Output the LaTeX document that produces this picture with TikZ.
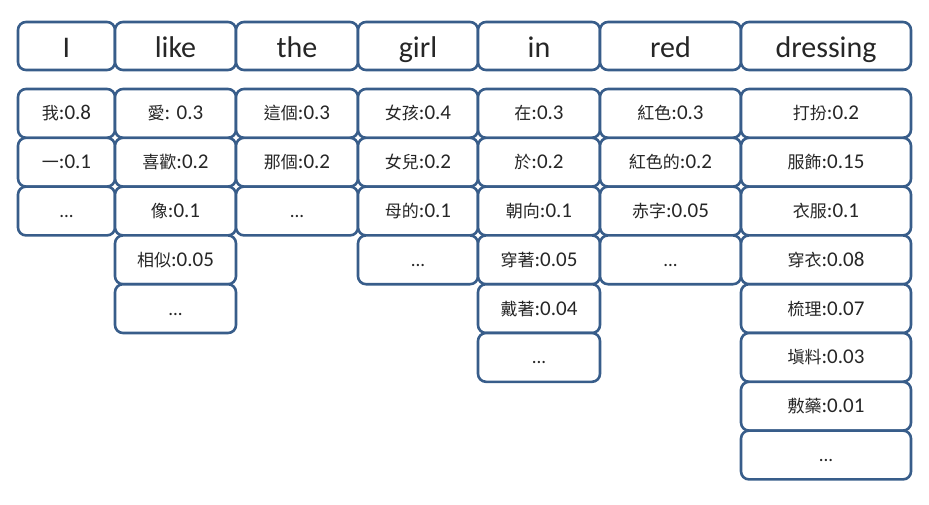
\documentclass[tikz,border=0pt]{standalone}
\usepackage{fontspec}
\setmainfont{Carlito}
\newfontfamily\cjk{Noto Sans CJK TC}
\definecolor{bord}{HTML}{385D8A}
\definecolor{txt}{HTML}{262626}
\newcommand\cp[2]{{\fontsize{17}{20}\selectfont\cjk #1}#2}
\tikzset{
  box/.style={draw=bord, line width=2.6pt, rounded corners=8pt, fill=white,
    inner sep=0pt, text=txt, minimum height=48pt},
  lowbox/.style={box, minimum height=48.8pt, font=\fontsize{21}{24}\selectfont,
    text height=16.4pt, text depth=3.4pt},
  topbox/.style={box, font=\fontsize{30}{34}\selectfont,
    text height=27pt, text depth=5pt},
  dotsx/.style={font=\fontsize{19}{22}\selectfont}
}
\begin{document}
\begin{tikzpicture}[x=1pt,y=-1pt]
\useasboundingbox (0,0) rectangle (929,504);
% top row
\node[topbox, minimum width=97pt]  (t1) at (66.5,46) {I};
\node[topbox, minimum width=121pt] (t2) at (175.5,46) {like};
\node[topbox, minimum width=122pt] (t3) at (297,46) {the};
\node[topbox, minimum width=120pt] (t4) at (418,46) {girl};
\node[topbox, minimum width=122pt] (t5) at (539,46) {in};
\node[topbox, minimum width=141pt] (t6) at (670.5,46) {red};
\node[topbox, minimum width=170pt] (t7) at (826,46) {dressing};
% column 1
\node[lowbox, minimum width=97pt] (a1) at (66.5,113.4) {\cp{我}{:0.8}};
\node[lowbox, minimum width=97pt] (a2) at (66.5,162.2) {\cp{一}{:0.1}};
\node[lowbox, minimum width=97pt, dotsx] (a3) at (66.5,211) {...};
% column 2
\node[lowbox, minimum width=121pt] (b1) at (175.5,113.4) {\cp{愛}{: 0.3}};
\node[lowbox, minimum width=121pt] (b2) at (175.5,162.2) {\cp{喜歡}{:0.2}};
\node[lowbox, minimum width=121pt] (b3) at (175.5,211) {\cp{像}{:0.1}};
\node[lowbox, minimum width=121pt] (b4) at (175.5,259.8) {\cp{相似}{:0.05}};
\node[lowbox, minimum width=121pt, dotsx] (b5) at (175.5,308.6) {...};
% column 3
\node[lowbox, minimum width=122pt] (c1) at (297,113.4) {\cp{這個}{:0.3}};
\node[lowbox, minimum width=122pt] (c2) at (297,162.2) {\cp{那個}{:0.2}};
\node[lowbox, minimum width=122pt, dotsx] (c3) at (297,211) {...};
% column 4
\node[lowbox, minimum width=120pt] (d1) at (418,113.4) {\cp{女孩}{:0.4}};
\node[lowbox, minimum width=120pt] (d2) at (418,162.2) {\cp{女兒}{:0.2}};
\node[lowbox, minimum width=120pt] (d3) at (418,211) {\cp{母的}{:0.1}};
\node[lowbox, minimum width=120pt, dotsx] (d4) at (418,259.8) {...};
% column 5
\node[lowbox, minimum width=122pt] (e1) at (539,113.4) {\cp{在}{:0.3}};
\node[lowbox, minimum width=122pt] (e2) at (539,162.2) {\cp{於}{:0.2}};
\node[lowbox, minimum width=122pt] (e3) at (539,211) {\cp{朝向}{:0.1}};
\node[lowbox, minimum width=122pt] (e4) at (539,259.8) {\cp{穿著}{:0.05}};
\node[lowbox, minimum width=122pt] (e5) at (539,308.6) {\cp{戴著}{:0.04}};
\node[lowbox, minimum width=122pt, dotsx] (e6) at (539,357.4) {...};
% column 6
\node[lowbox, minimum width=141pt] (f1) at (670.5,113.4) {\cp{紅色}{:0.3}};
\node[lowbox, minimum width=141pt] (f2) at (670.5,162.2) {\cp{紅色的}{:0.2}};
\node[lowbox, minimum width=141pt] (f3) at (670.5,211) {\cp{赤字}{:0.05}};
\node[lowbox, minimum width=141pt, dotsx] (f4) at (670.5,259.8) {...};
% column 7
\node[lowbox, minimum width=170pt] (g1) at (826,113.4) {\cp{打扮}{:0.2}};
\node[lowbox, minimum width=170pt] (g2) at (826,162.2) {\cp{服飾}{:0.15}};
\node[lowbox, minimum width=170pt] (g3) at (826,211) {\cp{衣服}{:0.1}};
\node[lowbox, minimum width=170pt] (g4) at (826,259.8) {\cp{穿衣}{:0.08}};
\node[lowbox, minimum width=170pt] (g5) at (826,308.6) {\cp{梳理}{:0.07}};
\node[lowbox, minimum width=170pt] (g6) at (826,357.4) {\cp{塡料}{:0.03}};
\node[lowbox, minimum width=170pt] (g7) at (826,406.2) {\cp{敷藥}{:0.01}};
\node[lowbox, minimum width=170pt, dotsx] (g8) at (826,455) {...};
\end{tikzpicture}
\end{document}
